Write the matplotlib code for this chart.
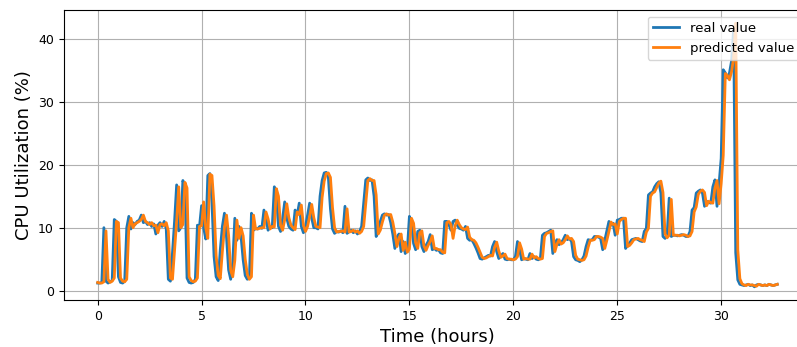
import numpy as np
import matplotlib
matplotlib.use("Agg")
import matplotlib.pyplot as plt

# CPU utilization samples, one every 0.1 h (6 min), rows of 10 = one hour
real_cpu = [
    1.2, 1.2, 1.3, 10.0, 1.5, 1.2, 1.4, 1.6, 11.3, 11.0,
    2.2, 1.3, 1.2, 1.5, 10.0, 11.8, 9.8, 10.8, 10.5, 11.0,
    11.2, 12.0, 10.8, 11.0, 10.5, 10.8, 10.2, 10.6, 9.0, 10.4,
    10.8, 10.2, 11.0, 9.8, 1.8, 1.5, 6.0, 11.0, 16.8, 9.5,
    10.0, 17.5, 16.5, 2.0, 1.3, 1.2, 1.3, 1.8, 10.4, 10.2,
    13.5, 10.0, 8.2, 18.3, 18.6, 14.0, 5.4, 2.2, 1.6, 6.5,
    10.2, 12.3, 8.5, 3.3, 1.8, 4.5, 11.5, 8.0, 10.2, 8.6,
    4.9, 2.4, 1.8, 2.0, 12.3, 9.6, 9.9, 9.8, 10.2, 9.9,
    12.8, 11.4, 9.6, 10.2, 10.0, 16.5, 15.0, 10.2, 9.4, 11.5,
    14.1, 11.5, 10.2, 9.8, 9.6, 12.8, 12.0, 13.9, 10.2, 9.2,
    10.2, 12.0, 13.9, 11.5, 10.0, 10.0, 9.8, 15.0, 17.5, 18.7,
    18.8, 18.0, 13.0, 9.8, 9.1, 9.4, 9.3, 9.5, 9.2, 13.4,
    9.1, 9.4, 9.6, 9.2, 9.5, 9.0, 9.4, 10.2, 14.0, 17.6,
    17.9, 17.5, 17.6, 15.0, 8.6, 9.6, 11.0, 12.0, 12.2, 12.0,
    12.1, 10.8, 9.0, 6.7, 8.5, 9.0, 6.2, 7.8, 5.9, 6.5,
    11.8, 10.7, 7.5, 6.5, 9.4, 9.6, 7.0, 6.2, 7.2, 7.8,
    8.9, 6.5, 6.7, 6.4, 6.5, 6.0, 5.9, 11.0, 11.0, 10.5,
    9.6, 11.0, 11.2, 10.4, 9.9, 9.8, 9.6, 10.2, 8.3, 8.0,
    8.1, 7.5, 6.8, 6.0, 5.1, 5.0, 5.2, 5.4, 5.6, 5.5,
    7.0, 7.8, 6.2, 5.1, 5.5, 5.9, 5.0, 4.9, 5.0, 4.9,
    4.9, 5.4, 7.8, 6.5, 4.9, 5.1, 5.0, 4.9, 5.9, 5.1,
    5.4, 5.0, 4.9, 5.1, 8.8, 9.1, 9.2, 9.4, 9.6, 5.9,
    7.5, 8.1, 7.3, 7.6, 8.1, 8.8, 8.1, 8.3, 7.8, 5.4,
    4.9, 4.8, 4.6, 4.9, 5.5, 7.0, 8.1, 8.0, 8.1, 8.6,
    8.6, 8.5, 8.3, 6.5, 8.0, 9.5, 11.0, 10.4, 10.7, 8.8,
    11.2, 11.3, 11.5, 11.5, 6.7, 7.2, 7.6, 8.1, 8.2, 8.3,
    8.1, 7.9, 7.8, 9.4, 9.9, 15.2, 15.5, 15.7, 16.5, 17.0,
    17.3, 15.5, 8.6, 8.3, 8.8, 14.7, 8.6, 8.8, 8.8, 8.7,
    8.8, 8.9, 8.8, 8.6, 8.6, 9.4, 12.8, 13.2, 15.5, 15.8,
    16.0, 15.5, 13.4, 14.2, 14.0, 13.9, 16.5, 17.6, 13.4, 17.0,
    21.0, 35.1, 34.6, 33.8, 34.6, 36.5, 41.5, 6.0, 1.7, 1.0,
    0.9, 0.8, 0.9, 1.0, 0.8, 0.9, 0.6, 0.9, 1.0, 0.9,
    0.8, 0.9, 0.8, 1.0, 0.9, 0.8, 0.9, 1.0,
]

predicted_cpu = [
    1.3, 1.2, 1.2, 1.4, 9.5, 1.8, 1.3, 1.5, 2.0, 11.0,
    10.8, 2.0, 1.5, 1.4, 1.8, 10.0, 11.5, 10.0, 10.6, 10.8,
    11.0, 11.3, 12.0, 11.0, 10.8, 10.5, 10.8, 10.3, 10.4, 9.2,
    10.5, 10.6, 10.3, 10.8, 9.5, 2.0, 1.8, 6.5, 11.0, 16.5,
    10.0, 10.5, 17.2, 16.3, 2.2, 1.6, 1.4, 1.5, 2.0, 10.2,
    10.3, 14.1, 10.0, 8.3, 18.5, 18.3, 13.5, 5.6, 2.4, 1.9,
    6.2, 10.0, 12.0, 8.8, 3.2, 2.2, 4.8, 11.2, 8.3, 10.0,
    8.7, 5.0, 2.6, 1.8, 2.2, 12.0, 9.8, 9.8, 9.9, 10.0,
    10.0, 12.5, 11.4, 9.8, 10.2, 10.1, 16.2, 15.0, 10.4, 9.6,
    11.3, 13.8, 11.6, 10.4, 10.0, 9.7, 12.5, 12.1, 13.6, 10.4,
    9.4, 10.2, 11.8, 13.7, 11.6, 10.2, 10.1, 10.0, 14.8, 17.4,
    18.6, 18.7, 18.0, 13.2, 10.0, 9.3, 9.4, 9.4, 9.5, 9.3,
    13.0, 9.3, 9.4, 9.6, 9.3, 9.5, 9.1, 9.4, 10.2, 13.8,
    17.5, 17.8, 17.5, 17.5, 15.2, 9.0, 9.6, 10.9, 12.0, 12.2,
    12.0, 12.1, 10.9, 9.1, 7.0, 8.4, 9.0, 6.4, 7.7, 6.1,
    6.6, 11.5, 10.7, 7.6, 6.7, 9.2, 9.5, 7.1, 6.4, 7.2,
    7.8, 8.7, 6.7, 6.7, 6.5, 6.5, 6.1, 6.0, 10.8, 11.0,
    10.5, 8.3, 10.3, 11.2, 10.5, 10.0, 9.8, 9.7, 10.1, 8.5,
    8.1, 8.0, 7.6, 6.9, 6.1, 5.3, 5.1, 5.2, 5.4, 5.6,
    5.5, 6.9, 7.7, 6.3, 5.3, 5.5, 5.8, 5.1, 5.0, 5.0,
    4.9, 5.0, 5.4, 7.6, 6.6, 5.0, 5.1, 5.0, 5.0, 5.8,
    5.2, 5.4, 5.1, 5.0, 5.1, 8.6, 9.1, 9.2, 9.4, 9.5,
    6.2, 7.4, 8.1, 7.4, 7.6, 8.1, 8.7, 8.2, 8.3, 7.8,
    5.6, 5.0, 4.9, 4.8, 4.9, 5.5, 6.9, 8.0, 8.0, 8.1,
    8.6, 8.6, 8.5, 8.3, 6.7, 8.0, 9.4, 10.9, 10.5, 10.6,
    9.0, 11.0, 11.3, 11.5, 11.5, 7.0, 7.2, 7.6, 8.1, 8.2,
    8.3, 8.1, 8.0, 7.8, 9.3, 9.9, 15.0, 15.5, 15.7, 16.4,
    17.1, 17.4, 15.6, 9.0, 8.4, 8.8, 14.5, 8.8, 8.8, 8.8,
    8.7, 8.8, 8.9, 8.8, 8.6, 8.7, 9.4, 12.5, 13.3, 15.3,
    15.8, 16.0, 15.6, 13.5, 14.2, 14.0, 13.9, 16.3, 17.5, 13.8,
    17.0, 21.5, 34.5, 34.2, 33.5, 34.8, 37.0, 42.5, 6.5, 1.9,
    1.1, 0.9, 0.8, 1.0, 0.9, 0.9, 0.8, 0.7, 1.0, 0.9,
    0.8, 0.9, 0.8, 1.0, 0.9, 0.8, 0.9, 1.0,
]

hours = np.arange(len(real_cpu)) * 0.1

fig = plt.figure(figsize=(7.97, 3.47), dpi=100)
# axes run a little past the right edge of the figure
ax = fig.add_axes([0.0799, 0.1354, 0.938, 0.8357])

ax.plot(hours, real_cpu, color="tab:blue", linewidth=2, label="real value")
ax.plot(hours, predicted_cpu, color="tab:orange", linewidth=2, label="predicted value")

ax.set_xlabel("Time (hours)", fontsize=13)
ax.set_ylabel("CPU Utilization (%)", fontsize=13)
ax.tick_params(labelsize=9)
ax.grid(True)
ax.legend(loc="upper right", bbox_to_anchor=(0.993, 1.0), fontsize=9.5)

fig.savefig("out.png", dpi=100)
